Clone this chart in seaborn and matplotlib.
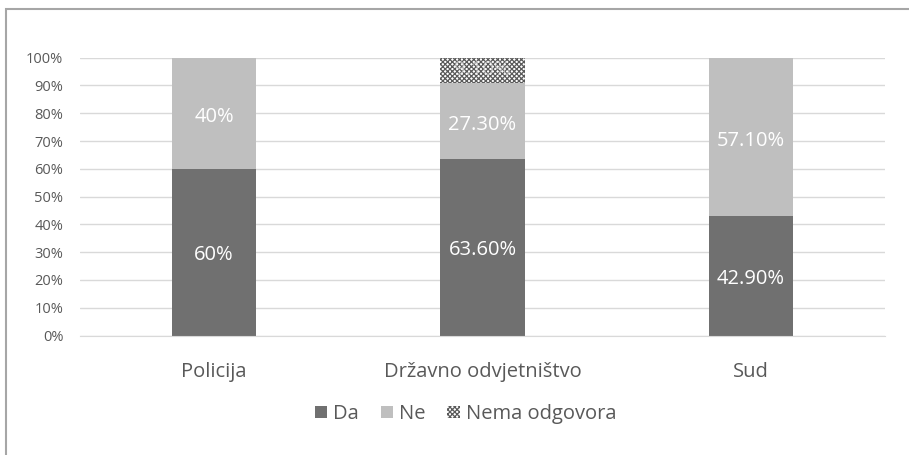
import numpy as np
import pandas as pd
import matplotlib
matplotlib.use("Agg")
import matplotlib.pyplot as plt
import seaborn as sns
from matplotlib.patches import Patch, Rectangle

categories = ["Policija", "Državno odvjetništvo", "Sud"]
da = [60.0, 63.6, 42.9]
ne = [40.0, 27.3, 57.1]
nema = [0.0, 9.1, 0.0]
da_labels = ["60%", "63.60%", "42.90%"]
ne_labels = ["40%", "27.30%", "57.10%"]
nema_labels = ["", "9.10%", ""]
yticks = [0, 10, 20, 30, 40, 50, 60, 70, 80, 90, 100]

c_da = "#707070"
c_ne = "#bfbfbf"
c_text = "#595959"

sns.set_style("white")
plt.rcParams["font.family"] = ["Open Sans", "DejaVu Sans"]
plt.rcParams["hatch.color"] = "#5a5a5a"
plt.rcParams["hatch.linewidth"] = 0.9

df = pd.DataFrame({"cat": categories, "da": da, "ne": ne, "nema": nema})
df["da_ne"] = df["da"] + df["ne"]
df["total"] = df["da_ne"] + df["nema"]

fig = plt.figure(figsize=(9.09, 4.55), dpi=100)
ax = fig.add_axes([0.088, 0.2626, 0.8856, 0.6106])

# stacked look: draw cumulative totals from the top down
sns.barplot(data=df, x="cat", y="total", color="white", width=0.315,
            hatch="xxxxxxx", edgecolor="#5a5a5a", linewidth=0, ax=ax, saturation=1)
sns.barplot(data=df, x="cat", y="da_ne", color=c_ne, width=0.315,
            linewidth=0, ax=ax, saturation=1)
sns.barplot(data=df, x="cat", y="da", color=c_da, width=0.315,
            linewidth=0, ax=ax, saturation=1)

for i in range(len(categories)):
    ax.text(i, da[i] / 2 - 1, da_labels[i], ha="center", va="center",
            color="white", fontsize=14.5)
    ax.text(i, da[i] + ne[i] / 2 - 1.5, ne_labels[i], ha="center", va="center",
            color="white", fontsize=14.5)
    if nema[i] > 0:
        ax.text(i, da[i] + ne[i] + nema[i] / 2, nema_labels[i], ha="center",
                va="center", color="#e8e8e8", fontsize=14.5, alpha=0.6)

ax.set_ylim(0, 100)
ax.set_xlim(-0.5, 2.5)
ax.set_yticks(yticks)
ax.set_yticklabels([f"{t}%" for t in yticks], fontsize=10.5, color=c_text)
ax.set_xticks(range(len(categories)))
ax.set_xticklabels(categories, fontsize=14.5, color=c_text)
ax.tick_params(axis="y", length=0, pad=12)
ax.tick_params(axis="x", length=0, pad=19)
ax.set_xlabel("")
ax.set_ylabel("")
ax.grid(axis="y", color="#d9d9d9", linewidth=1)
ax.set_axisbelow(True)
for s in ["top", "right", "left"]:
    ax.spines[s].set_visible(False)
ax.spines["bottom"].set_color("#d9d9d9")

handles = [Patch(facecolor=c_da, edgecolor="none", label="Da"),
           Patch(facecolor=c_ne, edgecolor="none", label="Ne"),
           Patch(facecolor="white", edgecolor="#5a5a5a", linewidth=0,
                 hatch="xxxxxxx", label="Nema odgovora")]
leg = fig.legend(handles=handles, loc="center", bbox_to_anchor=(0.512, 0.09),
                 ncol=3, frameon=False, fontsize=14.5, handlelength=0.6,
                 handleheight=0.6, handletextpad=0.3, columnspacing=1.1)
for t in leg.get_texts():
    t.set_color(c_text)

# chart border
fig.patches.append(Rectangle((0.0066, -0.1), 1.2, 1.0802, transform=fig.transFigure,
                             fill=False, edgecolor="#a6a6a6", linewidth=1.5))

fig.savefig("out.png", dpi=100)
